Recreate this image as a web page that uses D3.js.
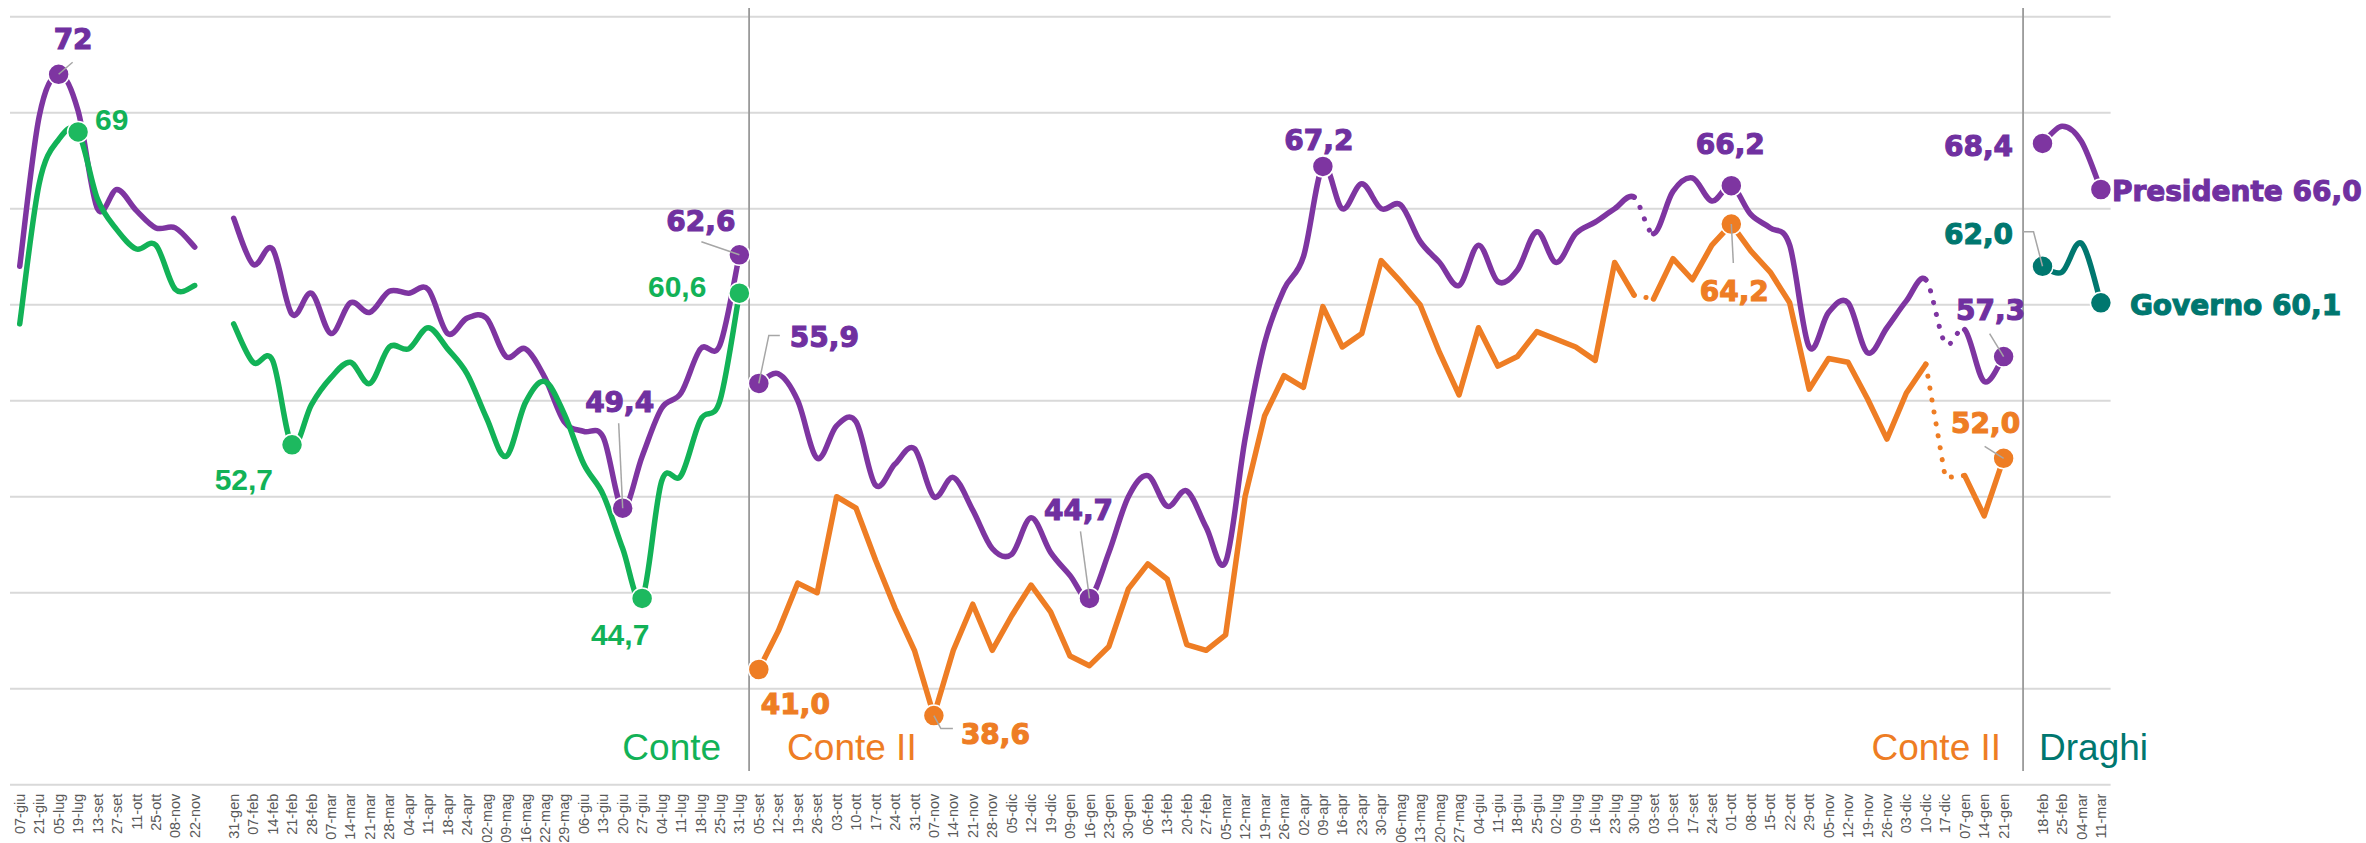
<!DOCTYPE html>
<html>
<head>
<meta charset="utf-8">
<script src="https://cdn.jsdelivr.net/npm/d3@7"></script>
<style>
  body { margin: 0; background: #fff; }
  svg { display: block; }
</style>
</head>
<body>
<div id="chart"></div>
<script>
// categories (one blank slot between the gaps)
var categories = ["07-giu","21-giu","05-lug","19-lug","13-set","27-set","11-ott","25-ott","08-nov","22-nov","",
  "31-gen","07-feb","14-feb","21-feb","28-feb","07-mar","14-mar","21-mar","28-mar","04-apr","11-apr","18-apr","24-apr",
  "02-mag","09-mag","16-mag","22-mag","29-mag","06-giu","13-giu","20-giu","27-giu","04-lug","11-lug","18-lug","25-lug","31-lug",
  "05-set","12-set","19-set","26-set","03-ott","10-ott","17-ott","24-ott","31-ott","07-nov","14-nov","21-nov","28-nov",
  "05-dic","12-dic","19-dic","09-gen","16-gen","23-gen","30-gen","06-feb","13-feb","20-feb","27-feb","05-mar","12-mar",
  "19-mar","26-mar","02-apr","09-apr","16-apr","23-apr","30-apr","06-mag","13-mag","20-mag","27-mag","04-giu","11-giu",
  "18-giu","25-giu","02-lug","09-lug","16-lug","23-lug","30-lug","03-set","10-set","17-set","24-set","01-ott","08-ott",
  "15-ott","22-ott","29-ott","05-nov","12-nov","19-nov","26-nov","03-dic","10-dic","17-dic","07-gen","14-gen","21-gen"," ",
  "18-feb","25-feb","04-mar","11-mar"];

var yTicks = [35, 40, 45, 50, 55, 60, 65, 70, 75];

// fiducia nel Presidente del Consiglio
var presidente = [62.0,69.8,72.0,70.1,65.0,66.0,64.9,64.0,64.0,63.0,null,
  64.5,62.1,62.9,59.5,60.6,58.5,60.1,59.6,60.7,60.6,60.8,58.5,59.3,59.3,57.3,57.7,56.2,53.9,53.4,53.1,49.4,52.1,54.6,55.4,57.7,57.9,62.6,
  55.9,56.4,55.0,52.0,53.7,53.9,50.6,51.7,52.5,50.0,51.0,49.3,47.3,47.0,48.9,47.1,45.9,44.7,47.1,50.0,51.1,49.5,50.3,48.4,46.6,
  53.0,58.0,60.8,62.5,67.2,65.0,66.3,65.0,65.2,63.3,62.2,61.0,63.1,61.2,61.8,63.8,62.2,63.7,64.3,65.0,65.6,
  63.7,65.9,66.6,65.4,66.2,64.7,64.0,63.1,57.8,59.6,60.1,57.5,58.8,60.2,61.3,58.0,58.7,56.0,57.3,null,
  68.4,69.3,68.5,66.0];

// fiducia nel Governo Conte
var governoConte = [59.0,66.3,68.6,69.0,65.5,63.9,62.9,63.1,60.8,61.0,null,
  59.0,57.0,57.1,52.7,54.8,56.2,57.0,55.9,57.8,57.7,58.8,57.7,56.4,54.1,52.1,54.9,56.0,54.3,51.7,50.1,47.3,44.7,50.8,51.1,54.0,55.0,60.6];

// fiducia nel Governo Conte II (starts at 05-set)
var governoConteII = [41.0,43.0,45.5,45.0,50.0,49.4,46.7,44.2,42.0,38.6,42.0,44.4,42.0,43.8,45.4,44.0,41.7,41.2,42.2,45.2,46.5,45.7,
  42.3,42.0,42.8,50.0,54.2,56.3,55.7,59.9,57.8,58.5,62.3,61.2,60.0,57.5,55.3,58.8,56.8,57.3,58.6,58.2,57.8,57.1,62.2,60.5,
  60.3,62.4,61.3,63.1,64.2,62.8,61.7,60.1,55.6,57.2,57.0,55.1,53.0,55.4,56.9,51.0,51.1,49.0,52.0];

// fiducia nel Governo Draghi (starts at 18-feb)
var governoDraghi = [62.0,61.7,63.2,60.1];

function place(arr, start) {
  var out = categories.map(function() { return null; });
  arr.forEach(function(v, i) { out[start + i] = v; });
  return out;
}
var conte1 = place(governoConte, 0);
var conte2 = place(governoConteII, 38);
var draghi = place(governoDraghi, 104);

var width = 2366, height = 843;

var svg = d3.select("#chart").append("svg")
    .attr("width", width)
    .attr("height", height);

var x = d3.scaleBand()
    .domain(d3.range(categories.length))
    .range([10, 2110.6]);
var xc = function(i) { return x(i) + x.bandwidth() / 2; };

var y = d3.scaleLinear()
    .domain([35, 75])
    .range([784.7, 16.7]);

// gridlines
svg.append("g")
    .selectAll("line")
    .data(yTicks)
    .enter().append("line")
    .attr("x1", x.range()[0])
    .attr("x2", x.range()[1])
    .attr("y1", function(d) { return y(d); })
    .attr("y2", function(d) { return y(d); })
    .attr("stroke", "#d9d9d9")
    .attr("stroke-width", 2);

// government dividers
var dividers = [x(38), xc(103)];
svg.append("g")
    .selectAll("line")
    .data(dividers)
    .enter().append("line")
    .attr("x1", function(d) { return d; })
    .attr("x2", function(d) { return d; })
    .attr("y1", 8)
    .attr("y2", 771)
    .attr("stroke", "#9a9a9a")
    .attr("stroke-width", 1.8);

// x axis labels
var xAxis = svg.append("g")
    .attr("transform", "translate(0," + y(35) + ")")
    .call(d3.axisBottom(x).tickSize(0).tickFormat(function(i) { return categories[i]; }));
xAxis.select(".domain").remove();
xAxis.selectAll("text")
    .attr("transform", "rotate(-90)")
    .attr("text-anchor", "end")
    .attr("x", -9)
    .attr("y", 0)
    .attr("dy", "0.35em")
    .attr("fill", "#595959")
    .style("font-family", "'Liberation Sans', Arial, sans-serif")
    .style("font-size", "14.5px");

// smooth piece (Excel-like Catmull-Rom) within a run
function smoothPiece(vals, run, a, b) {
  var p = d3.path();
  var pt = function(i) { return [xc(i), y(vals[i])]; };
  var get = function(i) { return (i >= run[0] && i <= run[1]) ? pt(i) : null; };
  for (var i = a; i < b; i++) {
    var p1 = pt(i), p2 = pt(i + 1);
    var p0 = get(i - 1) || p1, p3 = get(i + 2) || p2;
    if (i === a) p.moveTo(p1[0], p1[1]);
    p.bezierCurveTo(p1[0] + (p2[0] - p0[0]) / 6, p1[1] + (p2[1] - p0[1]) / 6,
                    p2[0] - (p3[0] - p1[0]) / 6, p2[1] - (p3[1] - p1[1]) / 6,
                    p2[0], p2[1]);
  }
  return p.toString();
}

var straight = d3.line()
    .x(function(i) { return xc(i); });

function pieces(run, dotted) {
  var out = [], cur = run[0];
  dotted.forEach(function(d) {
    if (d[0] >= run[0] && d[1] <= run[1]) {
      if (d[0] > cur) out.push({a: cur, b: d[0], dot: false});
      out.push({a: d[0], b: d[1], dot: true});
      cur = d[1];
    }
  });
  if (cur < run[1]) out.push({a: cur, b: run[1], dot: false});
  return out;
}

var series = [
  {vals: presidente, color: "#7e35a1", smooth: true, runs: [[0, 9], [11, 37], [38, 102], [104, 107]], dotted: [[83, 84], [98, 100]]},
  {vals: conte1, color: "#12b257", smooth: true, runs: [[0, 9], [11, 37]], dotted: []},
  {vals: conte2, color: "#ee7d24", smooth: false, runs: [[38, 102]], dotted: [[83, 84], [98, 100]]},
  {vals: draghi, color: "#00776f", smooth: true, runs: [[104, 107]], dotted: []}
];

var lines = svg.append("g").attr("class", "lines");
series.forEach(function(s) {
  s.runs.forEach(function(run) {
    pieces(run, s.dotted).forEach(function(pc) {
      var d;
      if (s.smooth) d = smoothPiece(s.vals, run, pc.a, pc.b);
      else d = straight.y(function(i) { return y(s.vals[i]); })(d3.range(pc.a, pc.b + 1));
      lines.append("path")
          .attr("d", d)
          .attr("fill", "none")
          .attr("stroke", s.color)
          .attr("stroke-width", pc.dot ? 5 : 5.5)
          .attr("stroke-linecap", "round")
          .attr("stroke-linejoin", "round")
          .attr("stroke-dasharray", pc.dot ? "0.1 12" : null);
    });
  });
});

// highlighted points and their labels
var callouts = [
  {s: 0, i: 2, text: "72", anchor: "start", dx: -5, dy: -25, leader: [[14, -12], [0, 0]]},
  {s: 1, i: 3, text: "69", anchor: "start", dx: 17, dy: -2},
  {s: 1, i: 14, text: "52,7", anchor: "end", dx: -19, dy: 45},
  {s: 0, i: 31, text: "49,4", anchor: "middle", dx: -3, dy: -96, leader: [[-4, -85], [0, 0]]},
  {s: 1, i: 32, text: "44,7", anchor: "middle", dx: -22, dy: 46.5},
  {s: 0, i: 37, text: "62,6", anchor: "end", dx: -4, dy: -24, leader: [[-38, -13], [0, 0]]},
  {s: 1, i: 37, text: "60,6", anchor: "end", dx: -33, dy: 4},
  {s: 0, i: 38, text: "55,9", anchor: "start", dx: 31, dy: -36, leader: [[21, -48], [10, -48], [0, 0]]},
  {s: 2, i: 38, text: "41,0", anchor: "start", dx: 2, dy: 44.5},
  {s: 2, i: 47, text: "38,6", anchor: "start", dx: 27, dy: 28.5, leader: [[0, 0], [7, 13], [19, 13]]},
  {s: 0, i: 55, text: "44,7", anchor: "middle", dx: -11, dy: -78.5, leader: [[-9, -67], [0, 0]]},
  {s: 0, i: 67, text: "67,2", anchor: "middle", dx: -4, dy: -16.5},
  {s: 0, i: 88, text: "66,2", anchor: "middle", dx: -1, dy: -32},
  {s: 2, i: 88, text: "64,2", anchor: "middle", dx: 3, dy: 77, leader: [[0, 0], [2, 39]]},
  {s: 0, i: 104, text: "68,4", anchor: "end", dx: -29.5, dy: 12.6},
  {s: 0, i: 107, text: "Presidente 66,0", anchor: "start", dx: 11, dy: 11},
  {s: 3, i: 104, text: "62,0", anchor: "end", dx: -29.5, dy: -22, leader: [[-20, -34.6], [-9, -34.6], [0, 0]]},
  {s: 3, i: 107, text: "Governo 60,1", anchor: "start", dx: 29, dy: 12},
  {s: 0, i: 102, text: "57,3", anchor: "middle", dx: -13, dy: -36.5, leader: [[-14, -23], [0, 0]]},
  {s: 2, i: 102, text: "52,0", anchor: "middle", dx: -18, dy: -25, leader: [[-19, -12], [0, 0]]}
];

var dotColors = ["#7e35a1", "#1db95f", "#ee7d24", "#00776f"];
var textColors = ["#7030a0", "#12b257", "#ee7d24", "#00776f"];

svg.append("g")
    .selectAll("circle")
    .data(callouts)
    .enter().append("circle")
    .attr("cx", function(d) { return xc(d.i); })
    .attr("cy", function(d) { return y(series[d.s].vals[d.i]); })
    .attr("r", 10.5)
    .attr("fill", function(d) { return dotColors[d.s]; })
    .attr("stroke", "#fff")
    .attr("stroke-width", 1.5);

svg.append("g")
    .selectAll("polyline")
    .data(callouts.filter(function(d) { return d.leader; }))
    .enter().append("polyline")
    .attr("points", function(d) {
      var cx = xc(d.i), cy = y(series[d.s].vals[d.i]);
      return d.leader.map(function(p) { return (cx + p[0]) + "," + (cy + p[1]); }).join(" ");
    })
    .attr("fill", "none")
    .attr("stroke", "#a6a6a6")
    .attr("stroke-width", 1.5);

svg.append("g")
    .selectAll("text")
    .data(callouts)
    .enter().append("text")
    .attr("x", function(d) { return xc(d.i) + d.dx; })
    .attr("y", function(d) { return y(series[d.s].vals[d.i]) + d.dy; })
    .attr("text-anchor", function(d) { return d.anchor; })
    .attr("fill", function(d) { return textColors[d.s]; })
    .attr("stroke", function(d) { return d.s === 1 ? null : textColors[d.s]; })
    .attr("stroke-width", 1.1)
    .style("font-family", function(d) { return d.s === 1 ? "'Liberation Sans', Arial, sans-serif" : "'DejaVu Sans', sans-serif"; })
    .style("font-weight", "bold")
    .style("font-size", function(d) { return d.s === 1 ? "30px" : "28px"; })
    .text(function(d) { return d.text; });

// government names
var govNames = [
  {text: "Conte", color: "#12b257", x: dividers[0] - 28, anchor: "end"},
  {text: "Conte II", color: "#ee7d24", x: dividers[0] + 38, anchor: "start"},
  {text: "Conte II", color: "#ee7d24", x: dividers[1] - 22, anchor: "end"},
  {text: "Draghi", color: "#00776f", x: dividers[1] + 16, anchor: "start"}
];

svg.append("g")
    .selectAll("text")
    .data(govNames)
    .enter().append("text")
    .attr("x", function(d) { return d.x; })
    .attr("y", 760)
    .attr("text-anchor", function(d) { return d.anchor; })
    .attr("fill", function(d) { return d.color; })
    .style("font-family", "'Liberation Sans', Arial, sans-serif")
    .style("font-size", "37px")
    .text(function(d) { return d.text; });
</script>
</body>
</html>
